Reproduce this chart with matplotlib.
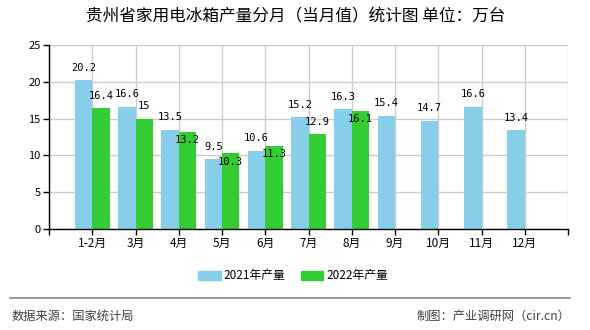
import numpy as np
import matplotlib
matplotlib.use("Agg")
import matplotlib.pyplot as plt
from matplotlib.patches import Patch

plt.rcParams['font.family'] = ['Noto Sans CJK SC', 'DejaVu Sans']

# --- data ---
months = ['1-2月', '3月', '4月', '5月', '6月', '7月', '8月', '9月', '10月', '11月', '12月']
prod_2021 = [20.2, 16.6, 13.5, 9.5, 10.6, 15.2, 16.3, 15.4, 14.7, 16.6, 13.4]
prod_2022 = [16.4, 15.0, 13.2, 10.3, 11.3, 12.9, 16.1]
series_names = ['2021年产量', '2022年产量']
y_ticks = [0, 5, 10, 15, 20, 25]

c2021 = '#87CEEB'
c2022 = '#33CC33'

fig = plt.figure(figsize=(5.9, 3.3), dpi=100)
ax = fig.add_axes([49 / 590, 101 / 330, 519 / 590, 184 / 330])

x = np.arange(len(months))
w = 0.4
ax.bar(x[:len(prod_2021)] - w / 2, prod_2021, width=w, color=c2021, zorder=2)
ax.bar(x[:len(prod_2022)] + w / 2, prod_2022, width=w, color=c2022, zorder=2)

# value labels; 2022 labels drop inside the bar when they'd clash with 2021's
lab_font = dict(fontsize=7.5, family='DejaVu Sans Mono', ha='center', va='center', zorder=4)
for xi, v in zip(x, prod_2021):
    ax.annotate(f'{v:g}', (xi - w / 2, v), xytext=(0, 12.5), textcoords='offset pixels', **lab_font)
for xi, v, v21 in zip(x, prod_2022, prod_2021):
    dy = -8.5 if abs(v - v21) < 1.5 else 12.5
    ax.annotate(f'{v:g}', (xi + w / 2, v), xytext=(0, dy), textcoords='offset pixels', **lab_font)

ax.set_xlim(-1, len(months))
ax.set_ylim(0, 25)
ax.set_xticks(np.arange(-1, len(months) + 1))
ax.set_xticklabels([''] + months + [''], fontsize=8.5)
ax.set_yticks(y_ticks)
ax.set_yticklabels([str(t) for t in y_ticks], fontsize=8)
ax.tick_params(axis='both', length=4, width=1, color='black', pad=2)

ax.grid(True, color='#cccccc', linewidth=1, zorder=0)
ax.set_axisbelow(True)
for s in ['top', 'right']:
    ax.spines[s].set_visible(False)
for s in ['left', 'bottom']:
    ax.spines[s].set_color('black')
    ax.spines[s].set_linewidth(1)
    ax.spines[s].set_zorder(3)

fig.text(296 / 590, 1 - 17 / 330, '贵州省家用电冰箱产量分月（当月值）统计图 单位：万台',
         ha='center', va='center', fontsize=12)

handles = [Patch(color=c2021), Patch(color=c2022)]
fig.legend(handles, series_names, loc='center', bbox_to_anchor=(293 / 590, 1 - 276 / 330),
           ncol=2, frameon=False, fontsize=8.5, handlelength=1.9, handleheight=0.8,
           handletextpad=0.25, columnspacing=1.3)

fig.add_artist(plt.Line2D([10 / 590, 570 / 590], [1 - 298 / 330] * 2,
                          color='#888888', linewidth=1.2))
fig.text(12 / 590, 1 - 316 / 330, '数据来源：国家统计局', ha='left', va='center',
         fontsize=8.8, color='#404040')
fig.text(570 / 590, 1 - 316 / 330, '制图：产业调研网（cir.cn）', ha='right', va='center',
         fontsize=8.8, color='#404040')

fig.savefig('out.png', dpi=100)
